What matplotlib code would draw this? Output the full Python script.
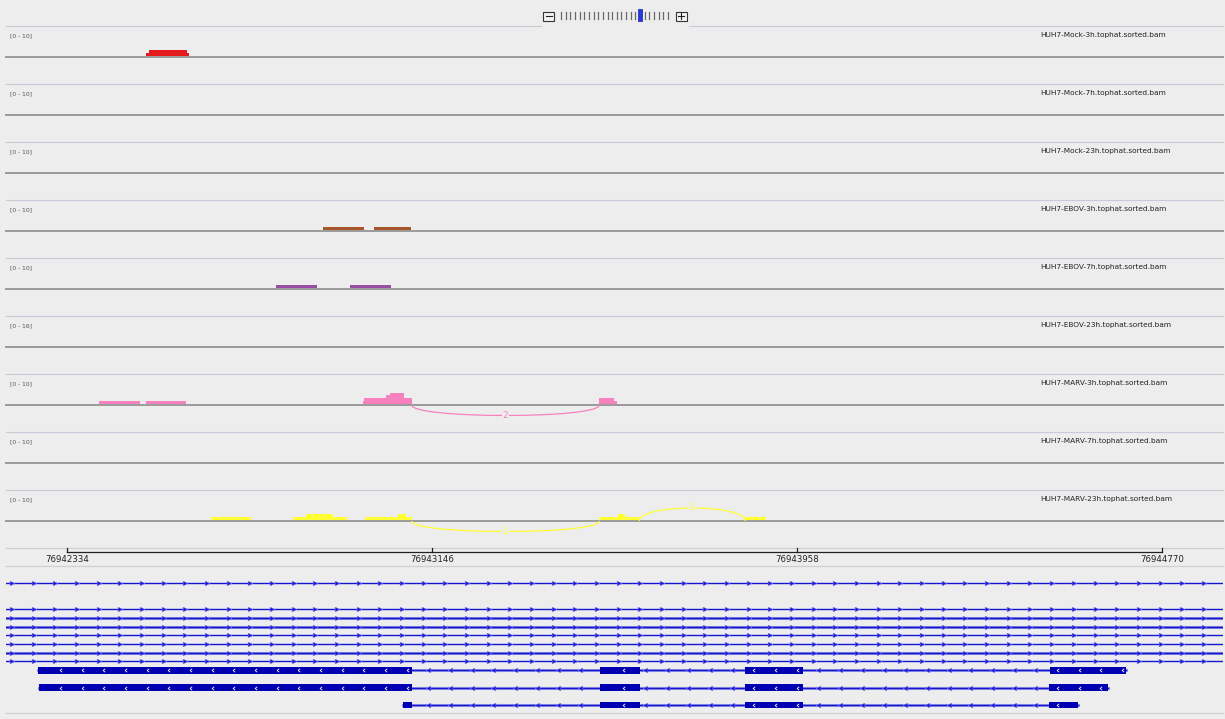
import numpy as np
import matplotlib
matplotlib.use('Agg')
import matplotlib.pyplot as plt
from matplotlib.path import Path
from matplotlib.patches import PathPatch, Rectangle

# Tracks (bam files) and their data ranges
samples = ['HUH7-Mock-3h', 'HUH7-Mock-7h', 'HUH7-Mock-23h',
           'HUH7-EBOV-3h', 'HUH7-EBOV-7h', 'HUH7-EBOV-23h',
           'HUH7-MARV-3h', 'HUH7-MARV-7h', 'HUH7-MARV-23h']
data_max = [10, 10, 10, 10, 10, 16, 10, 10, 10]
track_colors = ['#e41a1c', '#377eb8', '#4daf4a', '#a65628', '#984ea3',
                '#ff7f00', '#f781bf', '#999999', '#ffff33']

# Read coverage per track: (start, end, depth)
cov_mock_3h = [(76942510, 76942516, 1), (76942516, 76942601, 2), (76942601, 76942605, 1)]
cov_mock_7h = []
cov_mock_23h = []
cov_ebov_3h = [(76942904, 76942995, 1), (76943017, 76943099, 1)]
cov_ebov_7h = [(76942799, 76942890, 1), (76942964, 76943055, 1)]
cov_ebov_23h = []
cov_marv_3h = [(76942405, 76942496, 1), (76942510, 76942599, 1),
               (76942993, 76942995, 1), (76942995, 76943044, 2), (76943044, 76943053, 3),
               (76943053, 76943084, 4), (76943084, 76943101, 2),
               (76943518, 76943551, 2), (76943551, 76943558, 1)]
cov_marv_7h = []
cov_marv_23h = [(76942655, 76942743, 1),
                (76942837, 76942866, 1), (76942866, 76942926, 2), (76942926, 76942957, 1),
                (76942998, 76943070, 1), (76943070, 76943088, 2), (76943088, 76943101, 1),
                (76943518, 76943560, 1), (76943560, 76943575, 2), (76943575, 76943607, 1),
                (76943843, 76943888, 1)]
coverage = [cov_mock_3h, cov_mock_7h, cov_mock_23h, cov_ebov_3h, cov_ebov_7h,
            cov_ebov_23h, cov_marv_3h, cov_marv_7h, cov_marv_23h]

# Splice junctions: (donor, acceptor, depth, strand)
jct_marv_3h = [(76943101, 76943518, 2, '-')]
jct_marv_23h = [(76943101, 76943518, 1, '-'), (76943607, 76943843, 1, '+')]
junctions = {6: jct_marv_3h, 8: jct_marv_23h}

# Ruler
ruler_ticks = [76942334, 76943146, 76943958, 76944770]
view_start, view_end = 76942185, 76944910

# Gene models
fwd_span = (76942100, 76945000)   # forward transcripts run past the window
n_fwd_rows = 8
rev_tx1 = [(76942270, 76943101), (76943520, 76943609), (76943842, 76943971), (76944521, 76944690)]
rev_tx2 = [(76942272, 76943101), (76943520, 76943609), (76943842, 76943971), (76944519, 76944650)]
rev_tx3 = [(76943082, 76943101), (76943520, 76943609), (76943842, 76943971), (76944519, 76944583)]
rev_transcripts = [rev_tx1, rev_tx2, rev_tx3]

# ---- layout (pixels) ----
W, H = 1225, 719
bg = '#ededed'
sep_col = '#c9c9d8'
track_top, track_h, base_off = 26, 58, 31
px_per_read = 2.85
fwd_rows_y = [583, 609.3, 618, 626.7, 635.3, 644, 652.7, 661.3]
rev_rows_y = [670.3, 687.7, 705]
gene_blue = '#1414d2'
exon_blue = '#0000b2'
left_px, right_px = 6, 1223

fig = plt.figure(figsize=(W / 100, H / 100), dpi=100, facecolor=bg)

# pixel-space axes for the frame / widgets
ui = fig.add_axes([0, 0, 1, 1])
ui.set_xlim(0, W)
ui.set_ylim(H, 0)
ui.axis('off')
ui.set_facecolor(bg)

# data axes: genomic x, pixel y, clipped to the panel
bp_per_px = (view_end - view_start) / W
ax = fig.add_axes([left_px / W, 0, (right_px - left_px) / W, 1])
ax.set_xlim(view_start + left_px * bp_per_px, view_start + right_px * bp_per_px)
ax.set_ylim(H, 0)
ax.axis('off')
ax.patch.set_alpha(0)

# zoom widget
ui.add_patch(Rectangle((543, 11.5), 11, 9.5, fc='#f4f4f4', ec='#333333', lw=0.8))
ui.plot([545.5, 551.5], [16.2, 16.2], color='#222222', lw=0.8)
ui.add_patch(Rectangle((675.5, 11.5), 11, 9.5, fc='#f4f4f4', ec='#333333', lw=0.8))
ui.plot([678, 684], [16.2, 16.2], color='#222222', lw=0.8)
ui.plot([681, 681], [13.2, 19.2], color='#222222', lw=0.8)
for k in range(24):
    tx = 561 + k * 4.65
    if k == 17:
        ui.add_patch(Rectangle((tx - 2.3, 9), 4.6, 12, fc='#2838e0', ec='#1020a0', lw=0.5))
    else:
        ui.plot([tx, tx], [12, 18.7], color='#6a6a6a', lw=0.9)

# separators
ui.plot([left_px, 541], [track_top, track_top], color=sep_col, lw=0.8)
ui.plot([689, right_px], [track_top, track_top], color=sep_col, lw=0.8)
for i in range(1, len(samples)):
    y = track_top + i * track_h
    ui.plot([left_px, right_px], [y, y], color=sep_col, lw=0.8)
for y in [547.5, 566, 712.5]:
    ui.plot([left_px, right_px], [y, y], color='#d0d0d0', lw=0.9)

# alignment tracks
for i, name in enumerate(samples):
    top = track_top + i * track_h
    base = top + base_off
    ui.text(10, top + 10, '[0 - %d]' % data_max[i], fontsize=4.3, color='#555555',
            ha='left', va='center')
    ui.text(1040, top + 9.5, name + '.tophat.sorted.bam', fontsize=5.3, color='#222222',
            ha='left', va='center')
    ui.plot([left_px, right_px], [base, base], color='#9a9a9a', lw=1.4, zorder=1)
    for s, e, d in coverage[i]:
        ax.bar(s, -d * px_per_read, width=e - s, bottom=base - 1, align='edge',
               color=track_colors[i], lw=0, zorder=3)
    for s, e, d, strand in junctions.get(i, []):
        h = 10.5 if strand == '-' else -13
        ctrl = base + h / 0.75
        path = Path([(s, base), (s, ctrl), (e, ctrl), (e, base)],
                    [Path.MOVETO, Path.CURVE4, Path.CURVE4, Path.CURVE4])
        ax.add_patch(PathPatch(path, fc='none', ec=track_colors[i], lw=0.9, zorder=3))
        ax.text((s + e) / 2, base + h, str(d), fontsize=6.5, color=track_colors[i],
                ha='center', va='center', zorder=4,
                bbox=dict(fc=bg, ec='none', pad=0.2))

# ruler
ruler_y = 552
ax.plot([ruler_ticks[0], ruler_ticks[-1]], [ruler_y, ruler_y], color='#222222', lw=0.9)
for t in ruler_ticks:
    ax.plot([t, t], [ruler_y - 4.5, ruler_y], color='#222222', lw=0.9)
    ax.text(t, ruler_y + 7, str(t), fontsize=6.2, color='#222222', ha='center', va='center')

# forward-strand transcripts
arrow_step = 21.67 * bp_per_px
fwd_marks = np.arange(view_start + 12 * bp_per_px, view_end, arrow_step)
for r, y in enumerate(fwd_rows_y[:n_fwd_rows]):
    if r in (2, 3, 6):
        ax.plot(fwd_span, [y, y], color='#8c8ce0', lw=2.2, zorder=2)
    ax.plot(fwd_span, [y, y], color=gene_blue, lw=1.0, zorder=3)
    ax.plot(fwd_marks, [y] * len(fwd_marks), ls='none', marker='>', ms=3.4,
            color=gene_blue, mec='#8080f0', mew=0.4, zorder=4)

# reverse-strand transcripts
chev_left = Path([(1, 1), (-0.2, 0), (1, -1)], [Path.MOVETO, Path.LINETO, Path.LINETO])
rev_marks = np.arange(view_start + 16.7 * bp_per_px, view_end, arrow_step)
edge = 4 * bp_per_px
for tx, y in zip(rev_transcripts, rev_rows_y):
    t0, t1 = tx[0][0], tx[-1][1]
    ax.plot([t0, t1], [y, y], color='#9a9ae4', lw=2.2, zorder=2)
    ax.plot([t0, t1], [y, y], color=gene_blue, lw=1.0, zorder=3)
    ax.broken_barh([(s, e - s) for s, e in tx], (y - 3.4, 6.8), color=exon_blue, lw=0, zorder=4)
    in_tx = rev_marks[(rev_marks > t0 + edge) & (rev_marks < t1 - edge)]
    in_exon = np.zeros(len(in_tx), dtype=bool)
    near_edge = np.zeros(len(in_tx), dtype=bool)
    for s, e in tx:
        in_exon |= (in_tx > s + edge) & (in_tx < e - edge)
        near_edge |= (np.abs(in_tx - s) <= edge) | (np.abs(in_tx - e) <= edge)
    intron = ~in_exon & ~near_edge
    ax.plot(in_tx[in_exon], [y] * in_exon.sum(), ls='none', marker=chev_left, ms=2.4,
            mfc='none', mec='white', mew=0.6, zorder=5)
    ax.plot(in_tx[intron], [y] * intron.sum(), ls='none', marker='<', ms=3.4,
            color=gene_blue, mec='#8080f0', mew=0.4, zorder=4)

fig.savefig('out.png', dpi=100, facecolor=bg)
